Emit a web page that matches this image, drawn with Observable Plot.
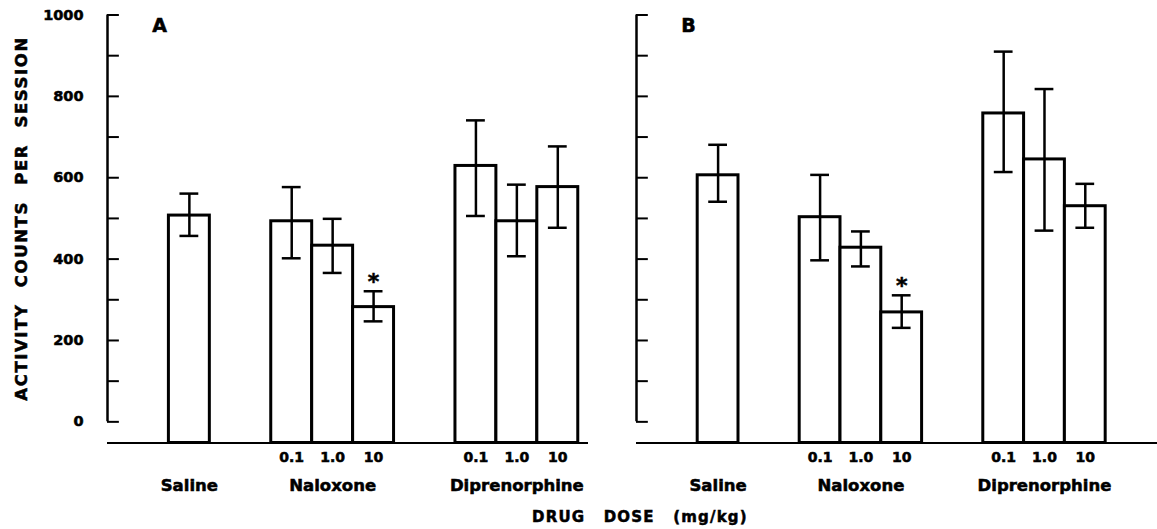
<!DOCTYPE html>
<html>
<head>
<meta charset="utf-8">
<script src="https://cdn.jsdelivr.net/npm/d3@7"></script>
<script src="https://cdn.jsdelivr.net/npm/@observablehq/plot@0.6"></script>
<style>
  html, body { margin: 0; padding: 0; background: #fff; }
  #fig { position: relative; width: 1157px; height: 529px; overflow: hidden;
         font-family: "DejaVu Sans", sans-serif; font-weight: bold; color: #000; background: #fff; }
  #panelA { position: absolute; left: 0; top: 0; }
  #panelB { position: absolute; left: 600px; top: 0; }
  #xtitle { position: absolute; left: 532px; top: 508px; font-size: 15px; line-height: 18px;
            letter-spacing: 1.2px; word-spacing: 12px; white-space: pre;
            -webkit-text-stroke: 0.5px #000; }
  svg text { stroke: #000; stroke-width: 0.55px; }
</style>
</head>
<body>
<div id="fig">
  <div id="panelA"></div>
  <div id="panelB"></div>
  <div id="xtitle"></div>
</div>
<script>
// ---------- data ----------
const groups = ["Saline", "Naloxone", "Diprenorphine"];
const barGroup = ["Saline", "Naloxone", "Naloxone", "Naloxone", "Diprenorphine", "Diprenorphine", "Diprenorphine"];
const barDose = ["", "0.1", "1.0", "10", "0.1", "1.0", "10"];

const meanA  = [507, 493, 433, 282, 629, 493, 577];
const upperA = [561, 577, 499, 321, 741, 583, 677];
const lowerA = [457, 402, 366, 247, 506, 407, 477];

const meanB  = [606, 503, 428, 269, 758, 645, 530];
const upperB = [681, 607, 468, 311, 910, 818, 585];
const lowerB = [541, 397, 382, 231, 614, 470, 477];

const significant = [false, false, false, true, false, false, false];

const yTicks = [0, 100, 200, 300, 400, 500, 600, 700, 800, 900, 1000];
const yTickLabels = [0, 200, 400, 600, 800, 1000];
const panelLetters = ["A", "B"];
const yTitle = "ACTIVITY COUNTS PER SESSION";
const xTitle = "DRUG DOSE (mg/kg)";

// ---------- layout (bar slots in bar-width units) ----------
const BAR = 1, GAP = 1.5, CAP = 0.23, TICK = 0.29;
const barStart = [];
let cursor = GAP;
groups.forEach(g => {
  barGroup.forEach((bg, i) => { if (bg === g) { barStart[i] = cursor; cursor += BAR; } });
  cursor += GAP;
});

const FONT = "DejaVu Sans, sans-serif";

function panel(letter, mean, lower, upper, opt) {
  const rows = barGroup.map((g, i) => ({
    group: g, dose: barDose[i],
    x1: barStart[i], x2: barStart[i] + BAR, xc: barStart[i] + BAR / 2,
    mean: mean[i], lo: lower[i], hi: upper[i], sig: significant[i]
  }));
  const groupRows = groups.map(g => ({
    group: g, xc: d3.mean(rows.filter(r => r.group === g), r => r.xc)
  }));
  const yMax = yTicks[yTicks.length - 1];
  const yMin = yTicks[0];
  const yBase = yMin - 0.052 * yMax;

  return Plot.plot({
    width: opt.width,
    height: 529,
    marginLeft: opt.marginLeft,
    marginRight: opt.marginRight,
    marginTop: 14.5,
    marginBottom: 86.5,
    x: { domain: [0, opt.xEnd], axis: null },
    y: { domain: [yBase, yMax], axis: null },
    style: { fontFamily: FONT, fontWeight: "bold", background: "#fff", color: "#000", overflow: "visible" },
    marks: [
      // baseline
      Plot.ruleY([yBase], { stroke: "#000", strokeWidth: 2.2 }),
      // bars
      Plot.rectY(rows, { x1: "x1", x2: "x2", y1: yBase, y2: "mean",
        fill: "#fff", stroke: "#000", strokeWidth: 3 }),
      // error bars
      Plot.ruleX(rows, { x: "xc", y1: "lo", y2: "hi", stroke: "#000", strokeWidth: 2.5 }),
      Plot.ruleY(rows, { y: "hi", x1: d => d.xc - CAP, x2: d => d.xc + CAP, stroke: "#000", strokeWidth: 2.5 }),
      Plot.ruleY(rows, { y: "lo", x1: d => d.xc - CAP, x2: d => d.xc + CAP, stroke: "#000", strokeWidth: 2.5 }),
      // significance
      Plot.text(rows.filter(d => d.sig), { x: "xc", y: "hi", text: () => "*", dy: -9,
        fontSize: 22, fontWeight: "bold", fill: "#000" }),
      // y axis line and inward ticks
      Plot.ruleX([0], { y1: yMin, y2: yMax, stroke: "#000", strokeWidth: 2.5 }),
      Plot.ruleY(yTicks, { y: d => d, x1: 0, x2: TICK, stroke: "#000", strokeWidth: 2 }),
      // y tick labels & title
      opt.labels ? Plot.text(yTickLabels, { y: d => d, frameAnchor: "left", dx: -24, textAnchor: "end",
        text: d => String(d), fontSize: 14.5, fontWeight: "bold", fill: "#000" }) : null,
      opt.labels ? Plot.text([yTitle], { y: (yMin + yMax) / 2, frameAnchor: "left", dx: -86, rotate: -90,
        textAnchor: "middle", fontSize: 16.5, fontWeight: "bold", fill: "#000" }) : null,
      // dose labels
      Plot.text(rows.filter(d => d.dose), { x: "xc", y: yBase, text: "dose", dy: 14.5,
        fontSize: 14, fontWeight: "bold", fill: "#000" }),
      // group labels
      Plot.text(groupRows, { x: "xc", y: yBase, text: "group", dy: 43,
        fontSize: 16.5, fontWeight: "bold", fill: "#000" }),
      // panel letter
      Plot.text([letter], { frameAnchor: "top-left", dx: 52, dy: 10.5, textAnchor: "middle",
        lineAnchor: "middle", fontSize: 19, fontWeight: "bold", fill: "#000" })
    ]
  });
}

const plotA = panel(panelLetters[0], meanA, lowerA, upperA,
  { width: 600, marginLeft: 107, marginRight: 12, xEnd: 11.75, labels: true });
const plotB = panel(panelLetters[1], meanB, lowerB, upperB,
  { width: 557, marginLeft: 36, marginRight: 0, xEnd: 12.77, labels: false });

document.getElementById("panelA").appendChild(plotA);
document.getElementById("panelB").appendChild(plotB);
document.getElementById("xtitle").textContent = xTitle;

// letter/word spacing for the y title
for (const t of plotA.querySelectorAll("text")) {
  if (t.textContent === yTitle) {
    t.setAttribute("letter-spacing", "1.6px");
    t.setAttribute("word-spacing", "9px");
  }
}
</script>
</body>
</html>
